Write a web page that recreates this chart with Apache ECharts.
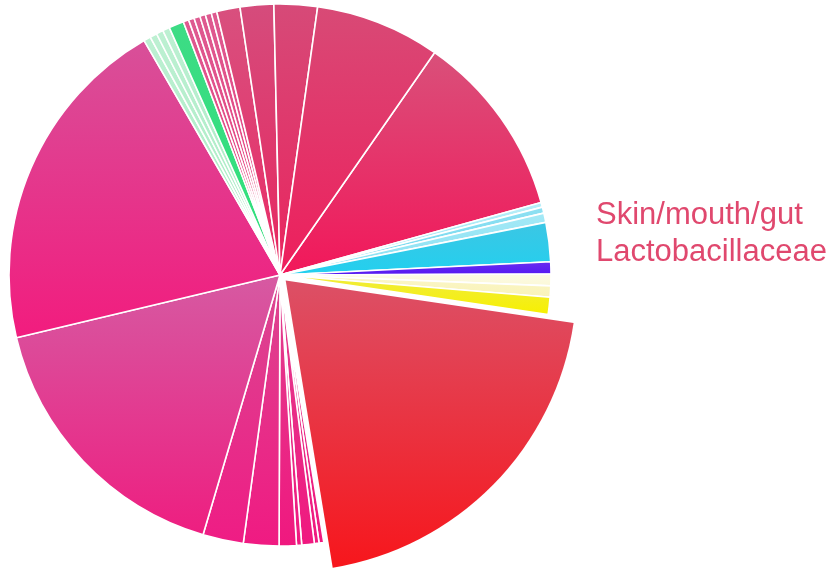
<!DOCTYPE html>
<html>
<head>
<meta charset="utf-8">
<script src="https://cdn.jsdelivr.net/npm/echarts@6/dist/echarts.min.js"></script>
<style>
  html, body { margin: 0; padding: 0; background: #ffffff; }
  #chart { width: 839px; height: 574px; }
</style>
</head>
<body>
<div id="chart"></div>
<script>
// Relative abundance of each taxon, listed clockwise from the top-right slice.
const taxa = [
  'Taxon 1', 'Taxon 2', 'Taxon 3', 'Taxon 4', 'Taxon 5', 'Taxon 6', 'Taxon 7', 'Taxon 8', 'Taxon 9',
  'Lactobacillaceae',
  'Taxon 11', 'Taxon 12', 'Taxon 13', 'Taxon 14', 'Taxon 15', 'Taxon 16', 'Taxon 17', 'Taxon 18', 'Taxon 19',
  'Taxon 20', 'Taxon 21', 'Taxon 22', 'Taxon 23', 'Taxon 24',
  'Taxon 25', 'Taxon 26', 'Taxon 27', 'Taxon 28', 'Taxon 29', 'Taxon 30',
  'Taxon 31', 'Taxon 32', 'Taxon 33', 'Taxon 34'
];
const shares = [
  39.7, 1.0, 1.3, 2.0, 8.4, 2.6, 2.5, 2.4, 3.7,
  72.3,
  1.0, 1.0, 2.7, 1.1, 3.7, 7.6, 8.7, 60.1, 73.3,
  1.5, 1.5, 1.5, 1.5, 3.2,
  1.2, 1.2, 1.3, 1.2, 1.3, 1.2,
  5.0, 7.2, 9.3, 26.8
];
// The highlighted group, drawn pulled out of the pie.
const highlighted = 'Lactobacillaceae';
const annotation = ['Skin/mouth/gut', 'Lactobacillaceae'];

// Top and bottom colour of each slice's vertical gradient.
const shades = [
  ['#d9507a', '#f2175a'],
  ['#b8eef8', '#9ae6f5'], ['#8ee0f2', '#6fd8f0'], ['#a5e9f6', '#86e0f3'],
  ['#3cc6e4', '#22d0ef'],
  ['#6a2ef0', '#5417f2'],
  ['#fdfbe6', '#fbf8d6'], ['#fbf6c8', '#f9f3b8'],
  ['#f0ec40', '#f7f000'],
  ['#dc5066', '#f7161c'],
  ['#e0408f', '#f0187f'], ['#e0408f', '#f0187f'], ['#e0408f', '#f0187f'], ['#e0408f', '#f0187f'], ['#e0408f', '#f0187f'],
  ['#dc4690', '#f01a82'], ['#da4892', '#ef1c84'],
  ['#d65aa2', '#ee1e80'],
  ['#d85099', '#f21c7e'],
  ['#bdf0d2', '#a6ecc2'], ['#bdf0d2', '#a6ecc2'], ['#bdf0d2', '#a6ecc2'], ['#bdf0d2', '#a6ecc2'],
  ['#3ddc85', '#2ee07a'],
  ['#de5a90', '#ea3a7c'], ['#de5a90', '#ea3a7c'], ['#de5a90', '#ea3a7c'],
  ['#de5a90', '#ea3a7c'], ['#de5a90', '#ea3a7c'], ['#de5a90', '#ea3a7c'],
  ['#d8507e', '#ea2a66'],
  ['#d54c7c', '#e8265f'],
  ['#d64a78', '#ea245e'],
  ['#d84a76', '#ee1e5c']
];

function gradient(pair) {
  return {
    type: 'linear', x: 0, y: 0, x2: 0, y2: 1,
    colorStops: [{ offset: 0, color: pair[0] }, { offset: 1, color: pair[1] }]
  };
}

const center = [280, 275];
const startAngle = 55.2;

// Main pie: every slice except the highlighted one, which is left empty here.
const baseData = taxa.map((name, i) => ({
  name: name,
  value: shares[i],
  itemStyle: name === highlighted
    ? { color: 'rgba(0,0,0,0)', borderWidth: 0 }
    : { color: gradient(shades[i]) }
}));

// Overlay pie: only the highlighted slice is painted, larger and offset outwards.
const pulledData = taxa.map((name, i) => ({
  name: name,
  value: shares[i],
  selected: name === highlighted,
  itemStyle: name === highlighted
    ? { color: gradient(shades[i]), borderWidth: 0 }
    : { color: 'rgba(0,0,0,0)', borderWidth: 0 }
}));

const chart = echarts.init(document.getElementById('chart'), null, { renderer: 'canvas' });
chart.setOption({
  backgroundColor: '#ffffff',
  animation: false,
  tooltip: { show: false },
  series: [
    {
      type: 'pie',
      center: center,
      radius: [0, 271],
      startAngle: startAngle,
      clockwise: true,
      silent: true,
      label: { show: false },
      labelLine: { show: false },
      itemStyle: { borderColor: '#ffffff', borderWidth: 1.6 },
      emphasis: { disabled: true },
      data: baseData
    },
    {
      type: 'pie',
      center: center,
      radius: [0, 291],
      startAngle: startAngle,
      clockwise: true,
      silent: true,
      selectedMode: 'single',
      selectedOffset: 8,
      label: { show: false },
      labelLine: { show: false },
      emphasis: { disabled: true },
      data: pulledData
    }
  ],
  graphic: [
    {
      type: 'text',
      left: 596,
      top: 197,
      style: {
        text: annotation.join('\n'),
        fill: '#e0486e',
        font: '31px "Liberation Sans", Arial, sans-serif',
        lineHeight: 37
      }
    }
  ]
});
</script>
</body>
</html>
